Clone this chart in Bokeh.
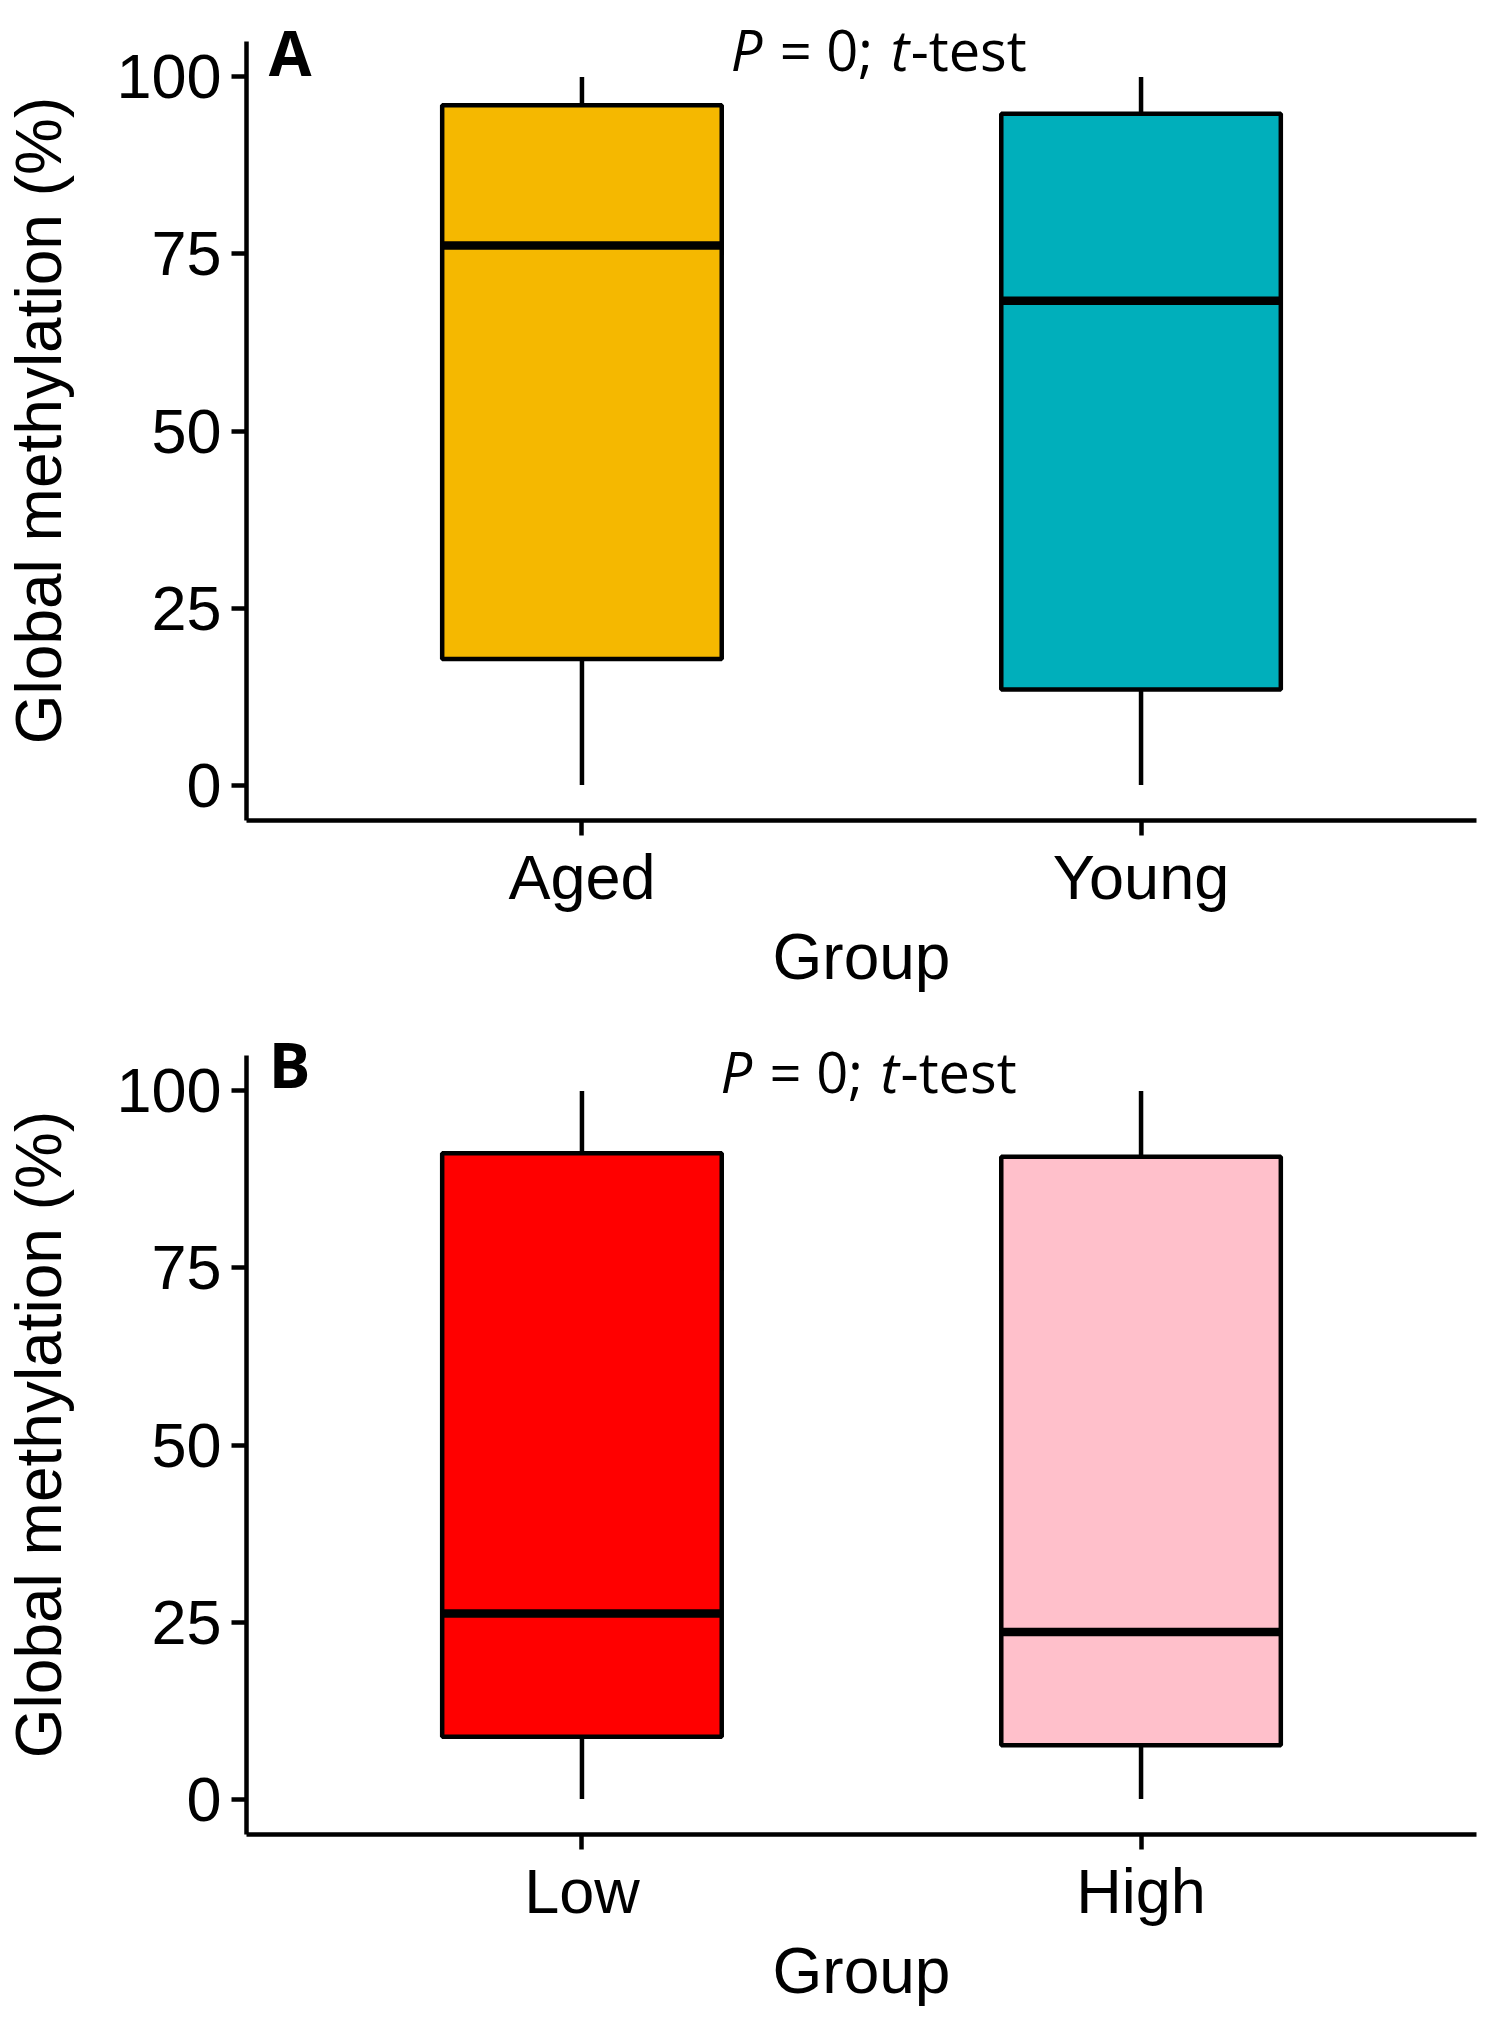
from bokeh.plotting import figure
from bokeh.layouts import column
from bokeh.models import Range1d, FixedTicker, ColumnDataSource, Label
from bokeh.embed import file_html
from bokeh.resources import INLINE

# ---- data ----
groups_a = ["Aged", "Young"]
low_a = [0, 0]
q1_a = [17.8, 13.5]
median_a = [76.2, 68.4]
q3_a = [96.0, 94.8]
high_a = [100, 100]
colors_a = ["#F5B800", "#00AFBB"]

groups_b = ["Low", "High"]
low_b = [0, 0]
q1_b = [8.8, 7.6]
median_b = [26.2, 23.6]
q3_b = [91.2, 90.7]
high_b = [100, 100]
colors_b = ["#FF0000", "#FFC0CB"]

y_ticks = [0, 25, 50, 75, 100]
panel_labels = ["A", "B"]
stat_text = ["P", "= 0;", "t", "-test"]

AXIS_FONT = "Liberation Sans"
ANNOT_FONT = "Open Sans"
BOX_WIDTH = 0.5


def make_panel(groups, low, q1, med, q3, high, colors, letter, letter_y, stat_x, stat_y,
               top_border, bottom_border):
    pos = [i + 1 for i in range(len(groups))]
    src = ColumnDataSource(dict(
        x=pos, low=low, q1=q1, med=med, q3=q3, high=high, color=colors,
        left=[v - BOX_WIDTH / 2 for v in pos], right=[v + BOX_WIDTH / 2 for v in pos],
    ))
    p = figure(frame_width=1230, frame_height=800,
               x_range=Range1d(0.4, 2.6), y_range=Range1d(-5, 107.97),
               output_backend="svg", toolbar_location=None,
               min_border_left=238, min_border_right=14,
               min_border_top=top_border, min_border_bottom=bottom_border)
    p.outline_line_color = None
    p.xgrid.visible = False
    p.ygrid.visible = False
    p.background_fill_color = "white"
    p.border_fill_color = "white"

    # whiskers
    p.segment(x0="x", y0="q3", x1="x", y1="high", source=src, line_color="black", line_width=4.5)
    p.segment(x0="x", y0="low", x1="x", y1="q1", source=src, line_color="black", line_width=4.5)
    # boxes
    p.vbar(x="x", width=BOX_WIDTH, bottom="q1", top="q3", source=src,
           fill_color="color", line_color="black", line_width=4.5)
    # medians
    p.segment(x0="left", y0="med", x1="right", y1="med", source=src,
              line_color="black", line_width=8.5, line_cap="butt")

    # axes
    for ax in (p.xaxis, p.yaxis):
        ax.axis_line_color = "black"
        ax.axis_line_width = 4.5
        ax.major_tick_line_color = "black"
        ax.major_tick_line_width = 4.5
        ax.major_tick_in = 0
        ax.major_tick_out = 15
        ax.minor_tick_line_color = None
        ax.major_label_text_font = AXIS_FONT
        ax.major_label_text_font_size = "63px"
        ax.major_label_text_color = "black"
        ax.axis_label_text_font = AXIS_FONT
        ax.axis_label_text_font_size = "64px"
        ax.axis_label_text_font_style = "normal"
        ax.axis_label_text_color = "black"

    p.xaxis.ticker = FixedTicker(ticks=pos)
    p.xaxis.major_label_overrides = {v: g for v, g in zip(pos, groups)}
    p.xaxis.axis_label = "Group"
    p.xaxis.major_label_standoff = 6
    p.xaxis.axis_label_standoff = 6

    p.yaxis.ticker = FixedTicker(ticks=y_ticks)
    p.yaxis.bounds = (-5, 105)
    p.yaxis.axis_label = "Global methylation (%)"
    p.yaxis.major_label_standoff = 10
    p.yaxis.axis_label_standoff = 38

    # panel letter
    p.add_layout(Label(x=0.44, y=letter_y, text=letter, text_font=ANNOT_FONT,
                       text_font_size="62px", text_font_style="bold", text_color="black",
                       text_align="left", text_baseline="alphabetic"))

    # statistic annotation
    offsets = [0, 49, 160, 180]
    styles = ["italic", "normal", "italic", "normal"]
    for txt, off, sty in zip(stat_text, offsets, styles):
        p.add_layout(Label(x=stat_x, y=stat_y, text=txt, x_offset=off,
                           text_font=ANNOT_FONT, text_font_size="56px",
                           text_font_style=sty, text_color="black",
                           text_align="left", text_baseline="alphabetic"))
    return p


pa = make_panel(groups_a, low_a, q1_a, median_a, q3_a, high_a, colors_a,
                panel_labels[0], 103.5, 1.266, 104.0, 20, 202)
pb = make_panel(groups_b, low_b, q1_b, median_b, q3_b, high_b, colors_b,
                panel_labels[1], 103.8, 1.248, 102.8, 12, 180)

layout = column(pa, pb, spacing=0)
open("out.html", "w").write(file_html(layout, INLINE))
